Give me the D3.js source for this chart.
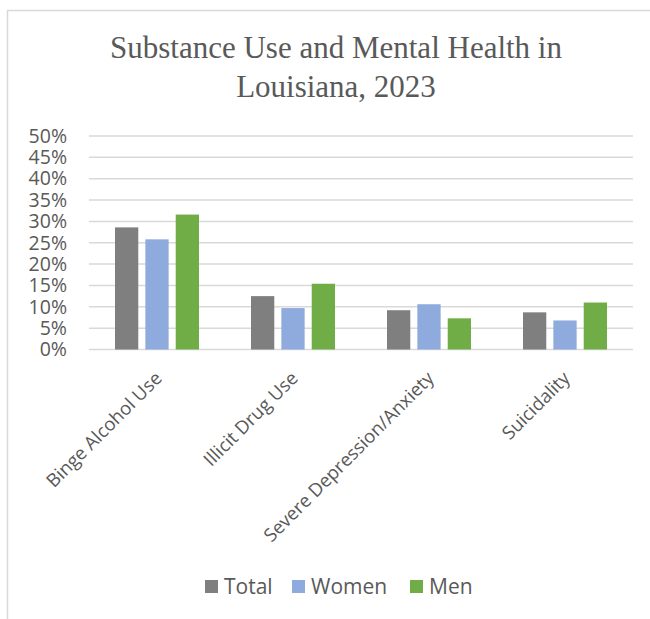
<!DOCTYPE html>
<html>
<head>
<meta charset="utf-8">
<script src="https://cdn.jsdelivr.net/npm/d3@7/dist/d3.min.js"></script>
<style>
  html, body { margin: 0; padding: 0; background: #ffffff; }
  svg { display: block; }
</style>
</head>
<body>
<svg id="chart" width="650" height="619"></svg>
<script>
// Chart data
const categories = ["Binge Alcohol Use", "Illicit Drug Use", "Severe Depression/Anxiety", "Suicidality"];
const seriesNames = ["Total", "Women", "Men"];
const totalValues = [0.286, 0.125, 0.092, 0.087];
const womenValues = [0.258, 0.097, 0.106, 0.068];
const menValues   = [0.316, 0.154, 0.073, 0.110];
const yTicks = [0, 0.05, 0.10, 0.15, 0.20, 0.25, 0.30, 0.35, 0.40, 0.45, 0.50];
const titleLines = ["Substance Use and Mental Health in", "Louisiana, 2023"];

const seriesValues = { Total: totalValues, Women: womenValues, Men: menValues };
const colors = { Total: "#7f7f7f", Women: "#8faadc", Men: "#70ad47" };

const svg = d3.select("#chart");
const W = 650, H = 619;

// Outer chart-area frame
svg.append("path")
  .attr("d", `M7.5,${H + 2} L7.5,10.5 L${W + 2},10.5`)
  .attr("fill", "none")
  .attr("stroke", "#d9d9d9")
  .attr("stroke-width", 1.5);

// Title
const title = svg.append("text")
  .attr("text-anchor", "middle")
  .attr("font-family", "'Liberation Serif', 'Times New Roman', serif")
  .attr("font-size", 31)
  .attr("fill", "#595959");
title.selectAll("tspan").data(titleLines).join("tspan")
  .attr("x", 336)
  .attr("y", (d, i) => 58 + i * 39)
  .text(d => d);

// Plot area
const plot = { left: 89, right: 633, top: 136, bottom: 349.5 };

const x0 = d3.scaleBand()
  .domain(categories)
  .range([plot.left, plot.right])
  .paddingInner(0)
  .paddingOuter(0);

const x1 = d3.scaleBand()
  .domain(seriesNames)
  .range([26, x0.bandwidth() - 26])
  .paddingInner(0.233);

const y = d3.scaleLinear()
  .domain([0, 0.5])
  .range([plot.bottom, plot.top]);

// Gridlines
svg.append("g")
  .selectAll("line")
  .data(yTicks)
  .join("line")
  .attr("x1", plot.left)
  .attr("x2", plot.right)
  .attr("y1", d => y(d))
  .attr("y2", d => y(d))
  .attr("stroke", "#d9d9d9")
  .attr("stroke-width", 1.5);

// Y axis labels
const yAxis = d3.axisLeft(y)
  .tickValues(yTicks)
  .tickFormat(d3.format(".0%"))
  .tickSize(0)
  .tickPadding(0);
const yg = svg.append("g")
  .attr("transform", `translate(67,0)`)
  .call(yAxis);
yg.select(".domain").remove();
yg.selectAll("text")
  .attr("font-family", "'Open Sans', sans-serif")
  .attr("font-size", 19.5)
  .attr("fill", "#595959");

// Bars
const groups = svg.append("g")
  .selectAll("g")
  .data(categories)
  .join("g")
  .attr("transform", d => `translate(${x0(d)},0)`);

groups.selectAll("rect")
  .data((c, ci) => seriesNames.map(s => ({ s, v: seriesValues[s][ci] })))
  .join("rect")
  .attr("x", d => x1(d.s))
  .attr("width", x1.bandwidth())
  .attr("y", d => y(d.v))
  .attr("height", d => y(0) - y(d.v))
  .attr("fill", d => colors[d.s]);

// Category labels, rotated
const xAxis = d3.axisBottom(x0).tickSize(0).tickPadding(0);
const xg = svg.append("g")
  .attr("transform", `translate(0,${plot.bottom})`)
  .call(xAxis);
xg.select(".domain").remove();
xg.selectAll("text")
  .attr("font-family", "'Open Sans', sans-serif")
  .attr("font-size", 18.5)
  .attr("fill", "#595959")
  .attr("text-anchor", "end")
  .attr("dy", null)
  .attr("y", 0)
  .attr("transform", "translate(6,30) rotate(-45)");

// Legend
const legendItems = [
  { s: "Total", x: 205 },
  { s: "Women", x: 292 },
  { s: "Men", x: 410 }
];
const legend = svg.append("g");
const li = legend.selectAll("g").data(legendItems).join("g")
  .attr("transform", d => `translate(${d.x},580)`);
li.append("rect")
  .attr("width", 13)
  .attr("height", 13)
  .attr("fill", d => colors[d.s]);
li.append("text")
  .attr("x", 19)
  .attr("y", 13.5)
  .attr("font-family", "'Open Sans', sans-serif")
  .attr("font-size", 21)
  .attr("fill", "#595959")
  .text(d => d.s);
</script>
</body>
</html>
